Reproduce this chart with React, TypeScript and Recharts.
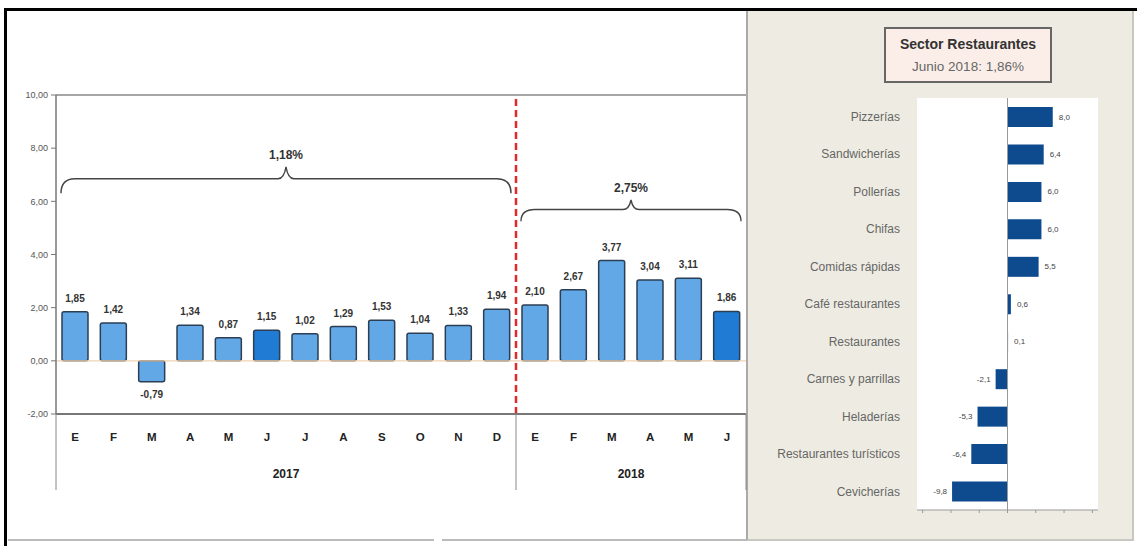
import React from 'react';
import {
  BarChart, Bar, XAxis, YAxis, Cell, LabelList, ReferenceLine, ReferenceArea, CartesianGrid,
} from 'recharts';

const months = ['E', 'F', 'M', 'A', 'M', 'J', 'J', 'A', 'S', 'O', 'N', 'D', 'E', 'F', 'M', 'A', 'M', 'J'];
const years = ['2017', '2017', '2017', '2017', '2017', '2017', '2017', '2017', '2017', '2017', '2017', '2017', '2018', '2018', '2018', '2018', '2018', '2018'];
const values = [1.85, 1.42, -0.79, 1.34, 0.87, 1.15, 1.02, 1.29, 1.53, 1.04, 1.33, 1.94, 2.10, 2.67, 3.77, 3.04, 3.11, 1.86];
const highlighted = [5, 17];
const yTicks = [-2, 0, 2, 4, 6, 8, 10];
const avgLabels = ['1,18%', '2,75%'];

const sectors = ['Pizzerías', 'Sandwicherías', 'Pollerías', 'Chifas', 'Comidas rápidas', 'Café restaurantes', 'Restaurantes', 'Carnes y parrillas', 'Heladerías', 'Restaurantes turísticos', 'Cevicherías'];
const sectorValues = [8.0, 6.4, 6.0, 6.0, 5.5, 0.6, 0.1, -2.1, -5.3, -6.4, -9.8];
const sectorTicks = [-15, -10, -5, 0, 5, 10, 15];

const data = months.map((m, i) => ({ key: `${m}-${years[i]}-${i}`, month: m, year: years[i], value: values[i] }));
const sectorData = sectors.map((s, i) => ({ name: s, value: sectorValues[i] }));

const NARROW = '"Liberation Sans Narrow", "Liberation Sans", Arial, sans-serif';
const SANS = '"Liberation Sans", Arial, sans-serif';

const fmt2 = (v: number) => v.toFixed(2).replace('.', ',');
const fmt1 = (v: number) => v.toFixed(1).replace('.', ',');

const Brace = (label: string) => (props: any) => {
  const { x, y, width, height } = props;
  const x0 = x + 5;
  const x1 = x + width - 5;
  const xc = (x0 + x1) / 2;
  const yb = y + height;
  const yl = y + height * 0.45;
  const yp = y;
  const d = `M ${x0} ${yb} Q ${x0} ${yl} ${x0 + 14} ${yl} L ${xc - 8} ${yl} Q ${xc - 2} ${yl} ${xc} ${yp} Q ${xc + 2} ${yl} ${xc + 8} ${yl} L ${x1 - 14} ${yl} Q ${x1} ${yl} ${x1} ${yb}`;
  return (
    <g>
      <path d={d} fill="none" stroke="#444" strokeWidth={1.4} />
      <text x={xc} y={yp - 8} textAnchor="middle" fontFamily={NARROW} fontWeight="bold" fontSize={12} fill="#333">{label}</text>
    </g>
  );
};

const ValueLabel = (props: any) => {
  const { x, y, width, height, value } = props;
  const top = Math.min(y, y + height);
  const bottom = Math.max(y, y + height);
  const cx = x + width / 2;
  if (value >= 0) {
    return <text x={cx} y={top - 10} textAnchor="middle" fontFamily={NARROW} fontWeight="bold" fontSize={10} fill="#333">{fmt2(value)}</text>;
  }
  return <text x={cx} y={bottom + 16} textAnchor="middle" fontFamily={NARROW} fontWeight="bold" fontSize={10} fill="#333">{fmt2(value)}</text>;
};

const YearTick = (props: any) => {
  const { x, y, payload, index } = props;
  const half = payload && typeof payload.offset === 'number' ? payload.offset : 19;
  const els: any[] = [];
  if (index === 0 || index === 12) {
    els.push(<line key="l" x1={x - half} x2={x - half} y1={y - 40} y2={y + 36} stroke="#888" strokeWidth={1} />);
  }
  if (index === 17) {
    els.push(<line key="r" x1={x + half} x2={x + half} y1={y - 40} y2={y + 36} stroke="#888" strokeWidth={1} />);
  }
  if (index === 5 || index === 14) {
    els.push(
      <text key="t" x={x + half} y={y + 20} textAnchor="middle" dominantBaseline="central" fontFamily={NARROW} fontWeight="bold" fontSize={12} fill="#222">
        {years[index]}
      </text>
    );
  }
  return <g>{els}</g>;
};

const SectorLabel = (props: any) => {
  const { x, y, width, height, value } = props;
  const left = Math.min(x, x + width);
  const right = Math.max(x, x + width);
  const cy = y + height / 2;
  if (value >= 0) {
    return <text x={right + 6} y={cy} dominantBaseline="central" textAnchor="start" fontFamily={SANS} fontSize={8} fill="#444">{fmt1(value)}</text>;
  }
  return <text x={left - 5} y={cy} dominantBaseline="central" textAnchor="end" fontFamily={SANS} fontSize={8} fill="#444">{fmt1(value)}</text>;
};

const brace1 = Brace(avgLabels[0]);
const brace2 = Brace(avgLabels[1]);

export default function App() {
  return (
    <div style={{ position: 'fixed', left: 0, top: 0, width: 1137, height: 546, background: '#fff', overflow: 'hidden' }}>
      <div style={{ position: 'absolute', left: 4, top: 8, width: 1200, height: 600, borderTop: '3px solid #000', borderLeft: '3px solid #000', boxSizing: 'border-box' }} />
      <div style={{ position: 'absolute', left: 8, top: 539, width: 426, height: 2, background: '#bbb' }} />
      <div style={{ position: 'absolute', left: 442, top: 539, width: 304, height: 2, background: '#bbb' }} />
      <div style={{ position: 'absolute', left: 746, top: 11, width: 388, height: 530, background: '#eeece2', borderLeft: '2px solid #aaa', borderRight: '2px solid #c8c8c0', borderBottom: '2px solid #c8c8c0', boxSizing: 'border-box' }} />
      <div style={{ position: 'absolute', left: 884, top: 27, width: 168, height: 56, background: '#fbeee8', border: '2px solid #666', boxSizing: 'border-box', textAlign: 'center', fontFamily: SANS }}>
        <div style={{ fontWeight: 'bold', fontSize: 14, color: '#333', marginTop: 7, lineHeight: '16px' }}>Sector Restaurantes</div>
        <div style={{ fontSize: 13.5, color: '#666', marginTop: 7, lineHeight: '16px' }}>Junio 2018: 1,86%</div>
      </div>

      <div style={{ position: 'absolute', left: 0, top: 0 }}>
        <BarChart width={750} height={510} data={data} margin={{ top: 95, right: 4, bottom: 6, left: 0 }}>
          <YAxis
            type="number"
            domain={[-2, 10]}
            ticks={yTicks}
            interval={0}
            width={56}
            tickFormatter={fmt2}
            tick={{ fontSize: 9, fill: '#555', fontFamily: NARROW }}
            axisLine={{ stroke: '#777', strokeWidth: 1.5 }}
            tickLine={{ stroke: '#777' }}
            tickSize={5}
            tickMargin={3}
          />
          <XAxis
            xAxisId="m"
            dataKey="key"
            interval={0}
            height={40}
            tickFormatter={(_v: any, i: number) => months[i]}
            tick={{ fontSize: 11.5, fill: '#222', fontWeight: 'bold', fontFamily: NARROW }}
            axisLine={{ stroke: '#777', strokeWidth: 2 }}
            tickLine={false}
            tickSize={0}
            tickMargin={19}
          />
          <XAxis
            xAxisId="y"
            dataKey="key"
            interval={0}
            height={50}
            axisLine={false}
            tickLine={false}
            tickSize={0}
            tickMargin={0}
            tick={<YearTick />}
          />
          <ReferenceLine xAxisId="m" y={10} stroke="#888" strokeWidth={1.5} />
          <ReferenceLine xAxisId="m" y={0} stroke="#f1d2b0" strokeWidth={1.2} />
          <ReferenceArea key="brace-2017" xAxisId="m" x1={data[0].key} x2={data[11].key} y1={6.3} y2={7.3} ifOverflow="visible" shape={brace1} />
          <ReferenceArea key="brace-2018" xAxisId="m" x1={data[12].key} x2={data[17].key} y1={5.25} y2={6.05} ifOverflow="visible" shape={brace2} />
          <Bar xAxisId="m" dataKey="value" barSize={26} stroke="#2b3e54" strokeWidth={1.5} radius={2} isAnimationActive={false}>
            {data.map((d, i) => (
              <Cell key={d.key} fill={highlighted.includes(i) ? '#1f7bd4' : '#63a8e6'} />
            ))}
            <LabelList dataKey="value" content={<ValueLabel />} />
          </Bar>
          <ReferenceLine xAxisId="m" x={data[12].key} position="start" stroke="#e0292b" strokeWidth={2.5} strokeDasharray="7 4" />
        </BarChart>
      </div>

      <div style={{ position: 'absolute', left: 747, top: 90 }}>
        <BarChart width={390} height={450} data={sectorData} layout="vertical" margin={{ top: 8, right: 39, bottom: 0, left: 0 }}>
          <CartesianGrid fill="#fff" stroke="none" horizontal={false} vertical={false} />
          <XAxis
            type="number"
            domain={[-16, 16]}
            ticks={sectorTicks}
            interval={0}
            height={30}
            tickFormatter={() => ''}
            axisLine={{ stroke: '#999' }}
            tickLine={{ stroke: '#999' }}
            tickSize={3}
          />
          <YAxis
            type="category"
            dataKey="name"
            width={170}
            interval={0}
            axisLine={false}
            tickLine={false}
            tickMargin={11}
            tick={{ fontSize: 12, fill: '#666', fontFamily: SANS }}
          />
          <ReferenceLine x={0} stroke="#999" strokeWidth={1} />
          <Bar dataKey="value" fill="#0d4a8e" barSize={20} isAnimationActive={false}>
            <LabelList dataKey="value" content={<SectorLabel />} />
          </Bar>
        </BarChart>
      </div>
    </div>
  );
}
